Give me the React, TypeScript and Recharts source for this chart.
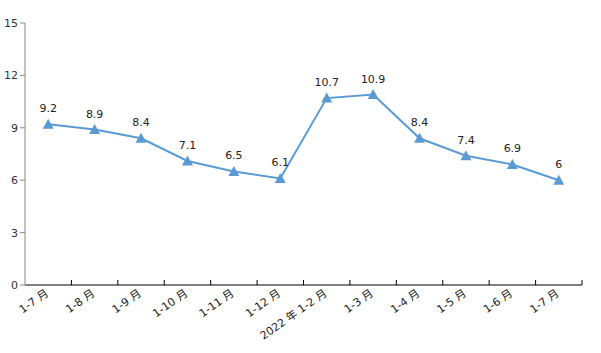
import { LabelList, Line, LineChart, XAxis, YAxis } from "recharts";

const months = ["1-7 月", "1-8 月", "1-9 月", "1-10 月", "1-11 月", "1-12 月", "2022 年 1-2 月", "1-3 月", "1-4 月", "1-5 月", "1-6 月", "1-7 月"];
const growth = [9.2, 8.9, 8.4, 7.1, 6.5, 6.1, 10.7, 10.9, 8.4, 7.4, 6.9, 6];
const yTicks = [0, 3, 6, 9, 12, 15];

const W = 601;
const H = 353;
const margin = { top: 23, right: 19, left: 0, bottom: 0 };
const yAxisWidth = 25;
const band = (W - margin.left - margin.right - yAxisWidth) / months.length;

const data = months.map((m, i) => ({ month: m, value: growth[i] }));

const font = "'DejaVu Sans', 'Noto Sans CJK SC', sans-serif";

const MonthTick = (props: any) => {
    const { x, y, payload } = props;
    return (
        <g>
            <line x1={x + band / 2} x2={x + band / 2} y1={y - 8} y2={y - 13} stroke="#000" strokeWidth={1} />
            <text x={x + 1} y={y + 2} transform={`rotate(-35, ${x + 1}, ${y + 2})`} textAnchor="end" fontSize={11} fill="#222" fontFamily={font}>
                {payload.value}
            </text>
        </g>
    );
};

const Triangle = (props: any) => {
    const { cx, cy, index } = props;
    if (cx == null || cy == null) return <g key={index} />;
    return <path key={index} d={`M${cx},${cy - 5.5} L${cx + 5.5},${cy + 4.5} L${cx - 5.5},${cy + 4.5} Z`} fill="#5B9BD5" />;
};

export default function App() {
    return (
        <div style={{ position: "absolute", left: 0, top: 0, width: W, height: H, background: "#fff" }}>
            <LineChart width={W} height={H} data={data} margin={margin}>
                <XAxis
                    dataKey="month"
                    interval={0}
                    height={68}
                    axisLine={{ stroke: "#000", strokeWidth: 1 }}
                    tickLine={false}
                    tick={<MonthTick />}
                    padding={{ left: band / 2, right: band / 2 }}
                />
                <YAxis
                    width={yAxisWidth}
                    domain={[0, 15]}
                    ticks={yTicks}
                    interval={0}
                    axisLine={{ stroke: "#888" }}
                    tickLine={{ stroke: "#888" }}
                    tickSize={5}
                    tickMargin={2}
                    tick={{ fill: "#333", fontSize: 11, fontFamily: font }}
                />
                <Line type="linear" dataKey="value" stroke="#5B9BD5" strokeWidth={2} dot={<Triangle />} activeDot={false} isAnimationActive={false}>
                    <LabelList dataKey="value" position="top" offset={12} fill="#222" fontSize={11} fontFamily={font} />
                </Line>
            </LineChart>
        </div>
    );
}
